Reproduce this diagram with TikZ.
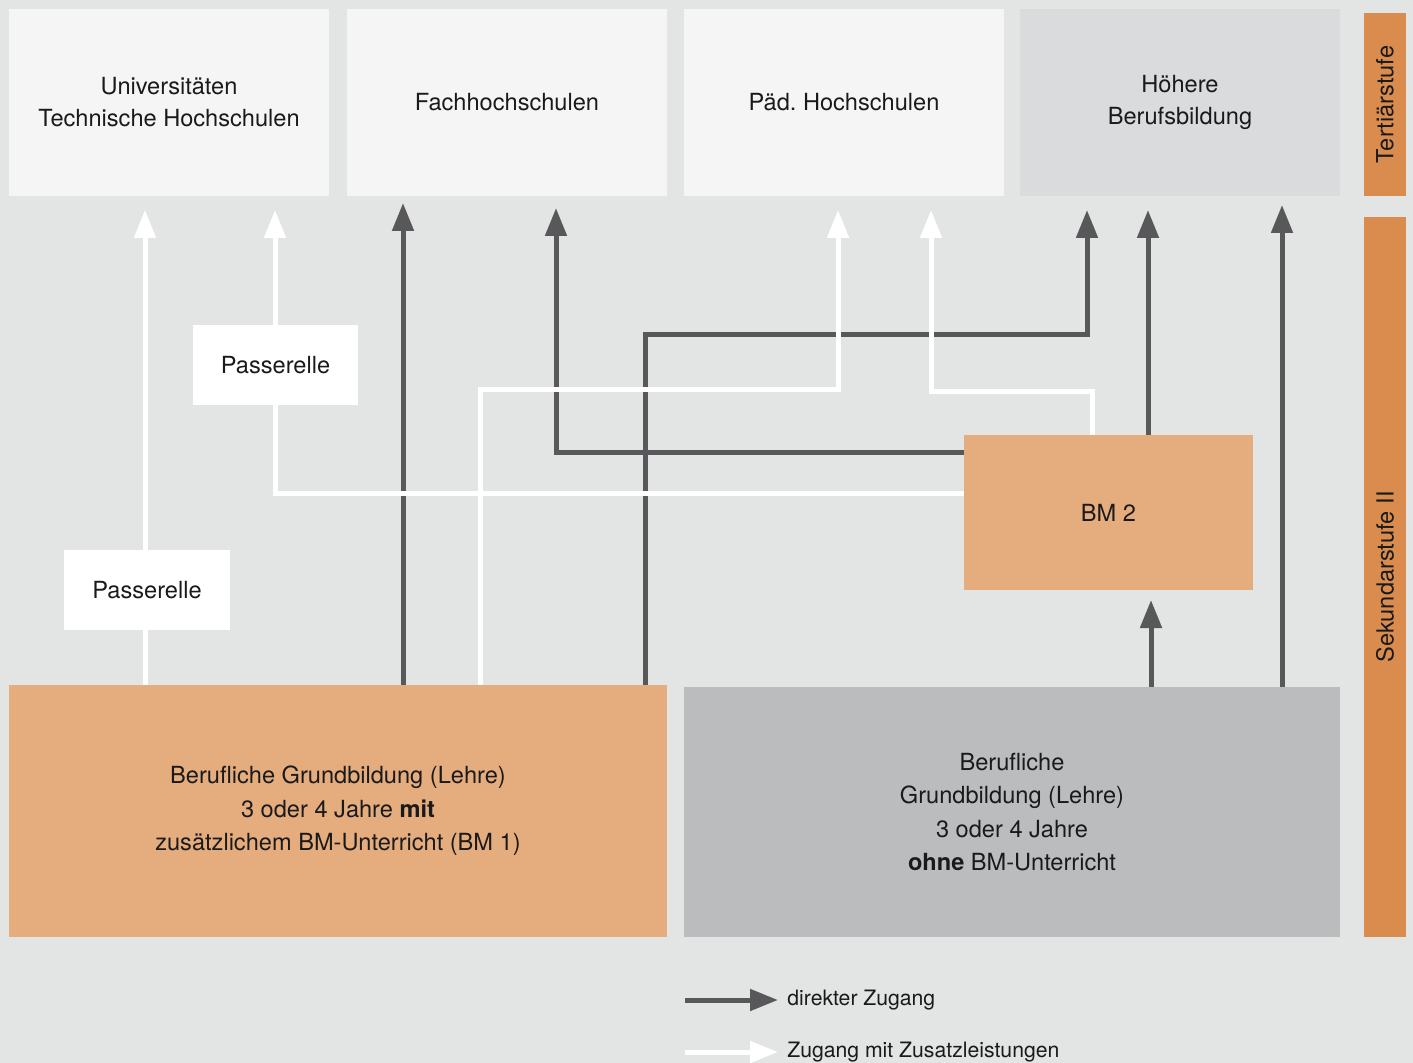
\documentclass[tikz,border=0pt]{standalone}
\usepackage{fontspec}
\setmainfont{TeX Gyre Heros}
\usetikzlibrary{arrows.meta}
\definecolor{bg}{HTML}{E3E4E4}
\definecolor{light}{HTML}{F5F5F5}
\definecolor{midgray}{HTML}{DADBDC}
\definecolor{boxgray}{HTML}{BBBCBE}
\definecolor{bmorange}{HTML}{E5AD7E}
\definecolor{barorange}{HTML}{D98C4E}
\definecolor{dark}{HTML}{58585A}
\definecolor{txt}{HTML}{1A1A1A}
\frenchspacing
\begin{document}
\begin{tikzpicture}[x=0.5pt,y=-0.5pt,
  box/.style={inner sep=0pt, align=center, font=\fontsize{11.8}{16}\selectfont, text=txt},
  bigbox/.style={box, font=\fontsize{11.8}{16.75}\selectfont},
  bar/.style={fill=barorange, inner sep=0pt, minimum width=21pt},
  vtext/.style={rotate=90, font=\fontsize{11.8}{13}\selectfont, text=txt},
  dk/.style={draw=dark, line width=2.5pt, line join=miter},
  wh/.style={draw=white, line width=2.5pt, line join=miter},
  tip/.style={-{Triangle[length=14pt,width=10.5pt]}},
  leg/.style={anchor=west, inner sep=0pt, font=\fontsize{10.6}{12}\selectfont, text=txt}]
\fill[bg] (0,0) rectangle (1413,1063);
\useasboundingbox (0,0) rectangle (1413,1063);

% top boxes
\node[box, fill=light, minimum width=160pt, minimum height=93.5pt] (uni) at (169,102.5) {Universitäten\\Technische Hochschulen};
\node[box, fill=light, minimum width=160pt, minimum height=93.5pt] (fh) at (507,102.5) {Fachhochschulen};
\node[box, fill=light, minimum width=160pt, minimum height=93.5pt] (ph) at (844,102.5) {Päd.\ Hochschulen};
\node[box, fill=midgray, minimum width=160pt, minimum height=93.5pt] (hb) at (1180,102.5) {Höhere\\Berufsbildung};

% side bars
\node[bar, minimum height=91.5pt] (tert) at (1385,104.5) {};
\node[vtext] (terttext) at (tert.center) {Tertiärstufe};
\node[bar, minimum height=360pt] (sek) at (1385,577) {};
\node[vtext] (sektext) at (sek.center) {Sekundarstufe II};

% bottom boxes
\node[bigbox, fill=bmorange, minimum width=329pt, minimum height=126pt] (bl) at (338,811)
  {Berufliche Grundbildung (Lehre)\\3 oder 4 Jahre \textbf{mit}\\zusätzlichem BM-Unterricht (BM 1)};
\node[bigbox, fill=boxgray, minimum width=328pt, minimum height=125pt] (br) at (1012,812)
  {Berufliche\\Grundbildung (Lehre)\\3 oder 4 Jahre\\\textbf{ohne} BM-Unterricht};

% coordinates of tips and bends
\coordinate (t1) at (145,210);
\coordinate (t2) at (275,210);
\coordinate (t3) at (403,203);
\coordinate (t4) at (556,208);
\coordinate (t5) at (838,210);
\coordinate (t6) at (931,210);
\coordinate (t7) at (1087,210);
\coordinate (t8) at (1148,210);
\coordinate (t9) at (1282,205);
\coordinate (t10) at (1151,600);
\coordinate (w3) at (480,390);
\coordinate (d3) at (645,335);
\coordinate (w4) at (1092,392);

% dark connectors
\draw[dk, tip] (t3 |- bl.north) -- (t3);
\draw[dk, tip] (964,453) -- (t4 |- 0,453) -- (t4);
\draw[dk, tip] (d3 |- bl.north) -- (d3) -- (t7 |- d3) -- (t7);
\draw[dk, tip] (t8 |- 0,435) -- (t8);
\draw[dk, tip] (t9 |- br.north) -- (t9);
\draw[dk, tip] (t10 |- br.north) -- (t10);

% white connectors
\draw[wh] (t1 |- bl.north) -- (t1 |- 0,630);
\draw[wh, tip] (t1 |- 0,550) -- (t1);
\draw[wh] (964,494) -- (t2 |- 0,494) -- (t2 |- 0,405);
\draw[wh, tip] (t2 |- 0,325) -- (t2);
\draw[wh, tip] (w3 |- bl.north) -- (w3) -- (t5 |- w3) -- (t5);
\draw[wh, tip] (w4 |- 0,435) -- (w4) -- (t6 |- w4) -- (t6);

% boxes over connectors
\node[box, fill=white, minimum width=83pt, minimum height=40pt] (p1) at (147,590) {Passerelle};
\node[box, fill=white, minimum width=82.5pt, minimum height=40pt] (p2) at (275.5,365) {Passerelle};
\node[box, fill=bmorange, minimum width=144.5pt, minimum height=77.5pt] (bm2) at (1108.5,512.5) {BM 2};

% legend
\coordinate (l1a) at (685,1000);
\coordinate (l1b) at (778,1000);
\coordinate (l2a) at (685,1052);
\coordinate (l2b) at (778,1052);
\draw[dk, tip] (l1a) -- (l1b);
\node[leg] (leg1) at (787,1000) {direkter Zugang};
\draw[wh, tip] (l2a) -- (l2b);
\node[leg] (leg2) at (787,1052) {Zugang mit Zusatzleistungen};
\end{tikzpicture}
\end{document}
